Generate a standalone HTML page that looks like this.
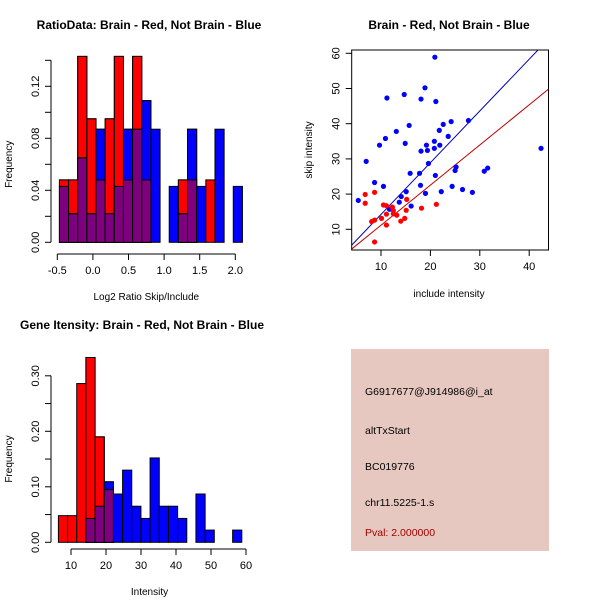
<!DOCTYPE html>
<html><head><meta charset="utf-8"><style>
body{margin:0;background:#fff}
svg{display:block;font-family:"Liberation Sans",sans-serif}
</style></head><body>
<svg id="c" width="600" height="600" viewBox="0 0 600 600">
<rect width="600" height="600" fill="#fff"/>
</svg>
<script>
// Ratio histogram data
const ratioRed  = [0.048,0.048,0.143,0.095,0.048,0.095,0.143,0.048,0.143,0.048,0,0,0,0.048,0.048,0,0.048,0,0,0];
const ratioBlue = [0.043,0.022,0.065,0.022,0.087,0.022,0.043,0.087,0.087,0.109,0.087,0,0.043,0.022,0.087,0.043,0,0.087,0,0.043];
const ratioYTicks = [0,0.04,0.08,0.12];
const ratioXTicks = [-0.5,0,0.5,1.0,1.5,2.0];
const ratioXLabels = ["-0.5","0.0","0.5","1.0","1.5","2.0"];
// Intensity histogram data
const intRed  = [0.048,0.048,0.286,0.333,0.19,0.095,0,0,0,0,0,0,0,0,0,0,0,0,0,0];
const intBlue = [0,0,0,0.043,0.065,0.109,0.087,0.13,0.065,0.043,0.152,0.065,0.065,0.043,0,0.087,0.022,0,0,0.022];
const intYTicks = [0,0.1,0.2,0.3];
const intYLabels = ["0.00","0.10","0.20","0.30"];
const intXTicks = [10,20,30,40,50,60];
// Scatter data
const blueX = [20.9,18.9,14.7,11.2,18.1,21.1,15.7,13.1,24.2,27.7,22.6,21.8,23.6,10.9,20.8,14.9,9.7,19.2,21.9,20.8,18.1,19.4,42.4,7.0,19.6,25.2,25.0,31.6,30.9,15.9,17.8,21.0,8.7,10.5,18.0,24.4,26.5,14.1,15.1,22.2,19.0,28.5,5.4,13.7,16.1,11.7];
const blueY = [58.9,50.2,48.3,47.3,47.0,46.3,39.5,37.8,40.6,40.9,39.8,38.1,36.4,35.8,35.0,34.4,33.9,33.9,33.9,33.0,32.2,32.4,33.0,29.3,28.7,27.7,26.7,27.4,26.5,25.9,25.9,25.3,23.3,22.2,22.5,22.2,21.3,19.3,20.7,20.7,20.2,20.5,18.2,17.7,16.6,15.7];
const redX = [6.8,8.7,6.8,15.2,21.2,10.5,11.1,12.3,12.5,18.2,15.1,11.1,12.5,13.2,10.1,14.8,14.0,8.7,8.1,11.1,8.7];
const redY = [19.9,20.5,17.4,18.5,17.1,16.9,16.7,16.3,15.3,16.0,15.4,14.3,14.4,14.0,13.1,13.1,12.3,12.6,12.2,11.2,6.4];
const blueFit = [-0.48,1.47];
const redFit = [-0.24,1.14];
const scXTicks = [10,20,30,40];
const scYTicks = [10,20,30,40,50,60];
const panelLines = ["G6917677@J914986@i_at","altTxStart","BC019776","chr11.5225-1.s"];
const pvalText = "Pval: 2.000000";

const svg = document.getElementById('c');
const NS = "http://www.w3.org/2000/svg";
function mk(tag, attrs, parent){const e=document.createElementNS(NS,tag);for(const k in attrs)e.setAttribute(k,attrs[k]);(parent||svg).appendChild(e);return e;}
function txt(x,y,s,attrs,parent){const e=mk('text',Object.assign({x:x,y:y,'font-size':11,'text-anchor':'middle',fill:'#000'},attrs||{}),parent);e.textContent=s;return e;}

function hist(cfg){
  const g=mk('g',{});
  
  
  const xs=v=>cfg.x0+(v-cfg.v0)*cfg.kx;
  const ys=v=>cfg.y0-v*cfg.ky;
  const n=cfg.red.length;
  for(let i=0;i<n;i++){
    const l=xs(cfg.start+i*cfg.w), r=xs(cfg.start+(i+1)*cfg.w);
    const rv=cfg.red[i], bv=cfg.blue[i];
    if(rv>0){const b=mk('rect',{x:l,y:ys(rv),width:r-l,height:ys(0)-ys(rv),fill:'#ff0000',stroke:'#000','stroke-width':1},g);
      }
    if(bv>0){const b=mk('rect',{x:l,y:ys(bv),width:r-l,height:ys(0)-ys(bv),fill:'#0000ff',stroke:'#000','stroke-width':1},g);
      }
    const m=Math.min(rv,bv);
    if(m>0){const b=mk('rect',{x:l,y:ys(m),width:r-l,height:ys(0)-ys(m),fill:'#7f007f',stroke:'#000','stroke-width':1},g);
      }
    if(rv>bv&&bv>0){mk('rect',{x:l,y:ys(rv),width:r-l,height:ys(bv)-ys(rv),fill:'#ff0000',stroke:'#000','stroke-width':1},g);}
    if(bv>rv&&rv>0){mk('rect',{x:l,y:ys(bv),width:r-l,height:ys(rv)-ys(bv),fill:'#0000ff',stroke:'#000','stroke-width':1},g);}
  }
  // y axis
  const ya=mk('g',{},g);
  const yt=cfg.yTicks;
  mk('line',{x1:cfg.yAxX,x2:cfg.yAxX,y1:ys(yt[0]),y2:ys(cfg.yTop),stroke:'#000'},ya);
  const yAll=cfg.yMinor||yt;
  yAll.forEach(v=>mk('line',{x1:cfg.yAxX-6,x2:cfg.yAxX,y1:ys(v),y2:ys(v),stroke:'#000'},ya));
  yt.forEach((v,i)=>txt(cfg.yAxX-12,ys(v),cfg.yLabels[i],{transform:`rotate(-90 ${cfg.yAxX-12} ${ys(v)})`},ya));
  // x axis
  const xa=mk('g',{},g);
  const xt=cfg.xTicks;
  mk('line',{x1:xs(xt[0]),x2:xs(xt[xt.length-1]),y1:cfg.xAxY,y2:cfg.xAxY,stroke:'#000'},xa);
  xt.forEach((v,i)=>{mk('line',{x1:xs(v),x2:xs(v),y1:cfg.xAxY,y2:cfg.xAxY+6,stroke:'#000'},xa);txt(xs(v),cfg.xAxY+20,cfg.xLabels[i],{},xa);});
  const t=txt(cfg.titleX,cfg.titleY,cfg.title,{'font-weight':'bold','font-size':12},g);
  const xl=txt(cfg.x0+ (xs(xt[xt.length-1])-cfg.x0)/2+ (cfg.xlabOff||0),cfg.xAxY+46,cfg.xlab,{'font-size':10},g);
  const yl=txt(12,ys((yt[0]+yt[yt.length-1])/2),'Frequency',{'font-size':10,transform:`rotate(-90 12 ${ys((yt[0]+yt[yt.length-1])/2)})`},g);
}

hist({name:'ratio-histogram',red:ratioRed,blue:ratioBlue,start:-0.47,w:0.1285,x0:57.3,v0:-0.5,kx:71.2,y0:242.3,ky:1300,
  yTicks:ratioYTicks,yLabels:["0.00","0.04","0.08","0.12"],yMinor:[0,0.02,0.04,0.06,0.08,0.1,0.12,0.14],yTop:0.14,yAxX:51,xAxY:254,
  xTicks:ratioXTicks,xLabels:ratioXLabels,title:'RatioData: Brain - Red, Not Brain - Blue',titleX:149,titleY:29,xlab:'Log2 Ratio Skip/Include',xlabOff:0});
hist({name:'intensity-histogram',red:intRed,blue:intBlue,start:6.4,w:2.62,x0:71,v0:10,kx:3.5,y0:542.3,ky:555,
  yTicks:intYTicks,yLabels:intYLabels,yMinor:[0,0.05,0.1,0.15,0.2,0.25,0.3],yTop:0.3,yAxX:51,xAxY:549,
  xTicks:intXTicks,xLabels:intXTicks.map(String),title:'Gene Itensity: Brain - Red, Not Brain - Blue',titleX:142,titleY:329,xlab:'Intensity',xlabOff:-9});

// scatter
(function(){
  const g=mk('g',{});
  const xs=v=>331.6+v*4.94, ys=v=>264.5-v*3.52;
  const L=351.7,R=548.5,T=50,B=250;
  const clip=mk('clipPath',{id:'sc'},g);mk('rect',{x:L,y:T,width:R-L,height:B-T},clip);
  [[blueFit,'#0000b0','blue-fit-line'],[redFit,'#c00000','red-fit-line']].forEach(([f,col,nm])=>{
    const x1=2,x2=48;const ln=mk('line',{x1:xs(x1),x2:xs(x2),y1:ys(f[0]+f[1]*x1),y2:ys(f[0]+f[1]*x2),stroke:col,'stroke-width':1,'clip-path':'url(#sc)'},g);
    });
  blueX.forEach((v,i)=>{const c=mk('circle',{cx:xs(v),cy:ys(blueY[i]),r:2.6,fill:'#0000ff'},g);});
  redX.forEach((v,i)=>{const c=mk('circle',{cx:xs(v),cy:ys(redY[i]),r:2.6,fill:'#ff0000'},g);});
  mk('rect',{x:L,y:T,width:R-L,height:B-T,fill:'none',stroke:'#000'},g);
  scXTicks.forEach(v=>{mk('line',{x1:xs(v),x2:xs(v),y1:B,y2:B+6,stroke:'#000'},g);txt(xs(v),B+20,String(v),{},g);});
  scYTicks.forEach(v=>{mk('line',{x1:L-6,x2:L,y1:ys(v),y2:ys(v),stroke:'#000'},g);txt(L-12,ys(v),String(v),{transform:`rotate(-90 ${L-12} ${ys(v)})`},g);});
  const t=txt(449,29,'Brain - Red, Not Brain - Blue',{'font-weight':'bold','font-size':12},g);
  const xl=txt(449,297,'include intensity',{'font-size':10},g);
  const yl=txt(312,150,'skip intensity',{'font-size':10,transform:'rotate(-90 312 150)'},g);
})();

// info panel
(function(){
  const g=mk('g',{});
  mk('rect',{x:351,y:349,width:198,height:202,fill:'#e6c8c1'},g);
  const ys=[395,434,470,506];
  panelLines.forEach((s,i)=>{const t=txt(365,ys[i],s,{'text-anchor':'start','font-size':10.5},g);});
  const p=txt(365,536,pvalText,{'text-anchor':'start','font-size':10.5,fill:'#a00000'},g);
})();
</script>
</body></html>
